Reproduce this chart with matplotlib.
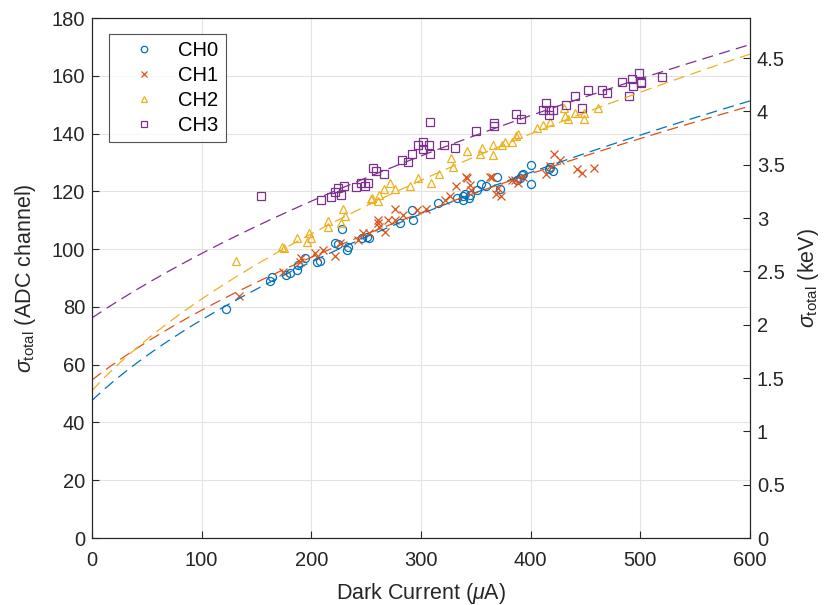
import numpy as np
import matplotlib
matplotlib.use("Agg")
import matplotlib.pyplot as plt

plt.rcParams['font.family'] = ['Liberation Sans', 'DejaVu Sans']
plt.rcParams['mathtext.fontset'] = 'custom'
plt.rcParams['mathtext.rm'] = 'Liberation Sans'
plt.rcParams['mathtext.it'] = 'Liberation Sans:italic'

# ---- data ----
ch0_x = [122, 162, 164, 177, 180.5, 187, 188, 194, 205, 208, 221.5, 224, 232.5, 233, 228,
         246, 251, 253, 281, 292, 293, 315.5, 333, 338, 340, 338, 344, 345, 351, 355, 359,
         369, 372, 387.5, 392, 393, 400, 400, 390, 417, 420, 418]
ch0_y = [79.3, 89, 90.5, 91, 91.6, 92.8, 94.5, 97, 95.5, 96, 102, 101.8, 99.7, 100.7, 107,
         103.8, 104.2, 104, 109, 113.5, 110, 116, 117.6, 118.4, 119, 117, 117.6, 118.7, 120.5,
         122.5, 121.8, 125, 120.8, 124, 125.6, 126, 129, 122.5, 124.6, 127.7, 127, 128.5]

ch1_x = [134, 174, 190, 190.5, 203, 205, 211, 221.5, 226, 243, 247, 253, 261, 261, 262, 267,
         270, 276, 276, 284, 296, 305, 322, 326, 332, 341, 342, 345, 346, 363, 365, 368, 370,
         373, 383, 386, 388, 393, 414, 418, 421, 427, 442, 447, 458]
ch1_y = [83.8, 92, 95.5, 97, 98.6, 97.3, 99.7, 97.6, 102, 103, 105.6, 105.6, 110, 109, 107.7,
         106, 110, 114, 110, 111.8, 113.5, 113.9, 117, 118.4, 122, 125, 124.6, 122.2, 120.5,
         125, 125, 119, 121, 118.4, 124, 124, 123, 125, 126, 128.8, 133, 131, 127.7, 126.3, 128]

ch2_x = [131, 173, 175, 187, 196, 198, 200, 215, 215, 227, 231, 229, 255, 254, 261, 262, 266,
         272, 276, 290, 297, 309, 316, 329, 327, 342, 354, 356, 366, 366, 374, 377, 383, 387,
         388, 406, 411, 418, 431, 434, 440, 449, 449, 461, 430]
ch2_y = [96, 100.7, 100.4, 104, 102.5, 105.6, 103.9, 109.7, 107.7, 109, 111.5, 113.9, 117.7,
         117.3, 116.6, 118.7, 120.8, 123, 120.8, 122, 124.6, 122.9, 126, 128.4, 131.5, 134, 133,
         135, 132.6, 136, 136, 137, 137, 139, 140, 141.9, 143, 144, 146, 145, 147, 147, 145,
         149, 149]

ch3_x = [154, 209, 218, 222, 224, 227, 230, 241, 245, 249, 252, 256, 259, 266, 283, 288, 292,
         297, 302, 302, 307, 308, 308, 321, 331, 350, 367, 367, 387, 391, 411, 414, 417, 420,
         417, 432, 440, 447, 452, 465, 470, 483, 490, 492, 493, 499, 501, 501, 520]
ch3_y = [118.4, 117, 118, 119.6, 121, 118.7, 122, 121.5, 123, 122, 123, 128, 127, 126, 131,
         130, 133, 136, 137, 134.6, 136, 133, 144, 136, 135, 141, 143.5, 142.6, 146.8, 145,
         148, 150.5, 148, 148, 146.5, 150, 153, 149, 155, 155, 154, 158, 153, 159, 156.5, 161,
         158, 157.5, 159.6]

channels = ['CH0', 'CH1', 'CH2', 'CH3']
# fitted curve sigma = sqrt(a^2 + b*I), given by its value at I=0 and at I=600
fit_at_0 = [47.6, 54.7, 51.0, 76.2]
fit_at_600 = [151.3, 149.5, 167.5, 170.8]

ADC_PER_KEV = 180 / 4.875

colors = ['#0072BD', '#D95319', '#EDB120', '#7E2F8E']
markers = ['o', 'x', '^', 's']
xs = [ch0_x, ch1_x, ch2_x, ch3_x]
ys = [ch0_y, ch1_y, ch2_y, ch3_y]

fig = plt.figure(figsize=(8.28, 6.05), dpi=100)
ax = fig.add_axes([92/828, 1-538/605, (750-92)/828, (538-18)/605])

dark = '#262626'
TICK_FS = 14.5
LABEL_FS = 15.5
xf = np.linspace(0, 600, 300)
for i in range(4):
    ax.plot(xs[i], ys[i], linestyle='none', marker=markers[i], markersize=5.8,
            markerfacecolor='none', markeredgecolor=colors[i], markeredgewidth=0.9,
            label=channels[i])
for i in range(4):
    a = fit_at_0[i]
    b = (fit_at_600[i]**2 - a**2) / 600
    ax.plot(xf, np.sqrt(a**2 + b*xf), linestyle=(0, (9, 5)), color=colors[i], linewidth=0.9)

ax.set_xlim(0, 600)
ax.set_ylim(0, 180)
ax.set_xticks(range(0, 601, 100))
ax.set_yticks(range(0, 181, 20))
ax.grid(True, color='#e3e3e3', linewidth=0.8)
ax.set_axisbelow(True)
ax.tick_params(direction='in', length=5, width=0.8, colors=dark, labelsize=TICK_FS, pad=5)
ax.tick_params(axis='x', pad=9)
for s in ax.spines.values():
    s.set_color(dark)
    s.set_linewidth(0.8)
ax.set_xlabel(r'Dark Current ($\mu$A)', fontsize=LABEL_FS, color=dark, labelpad=8)
ax.set_ylabel(r'$\sigma_{\mathrm{total}}$ (ADC channel)', fontsize=LABEL_FS, color=dark, labelpad=10)

ax2 = ax.twinx()
ax2.set_ylim(0, 180 / ADC_PER_KEV)
ax2.set_yticks(np.arange(0, 4.51, 0.5))
ax2.set_yticklabels(['0', '0.5', '1', '1.5', '2', '2.5', '3', '3.5', '4', '4.5'])
ax2.tick_params(direction='in', length=5, width=0.8, colors=dark, labelsize=TICK_FS, pad=5)
for s in ax2.spines.values():
    s.set_color(dark)
    s.set_linewidth(0.8)
ax2.set_ylabel(r'$\sigma_{\mathrm{total}}$ (keV)', fontsize=LABEL_FS, color=dark, labelpad=8)

leg = ax.legend(loc='upper left', bbox_to_anchor=((109-92)/658, 1-(34-18)/520),
                fontsize=14.5, frameon=True, fancybox=False, edgecolor=dark,
                handlelength=2.8, handletextpad=0.3, borderpad=0.35, labelspacing=0.3,
                borderaxespad=0, markerscale=0.8)
leg.get_frame().set_linewidth(0.8)

fig.savefig('out.png', dpi=100)
